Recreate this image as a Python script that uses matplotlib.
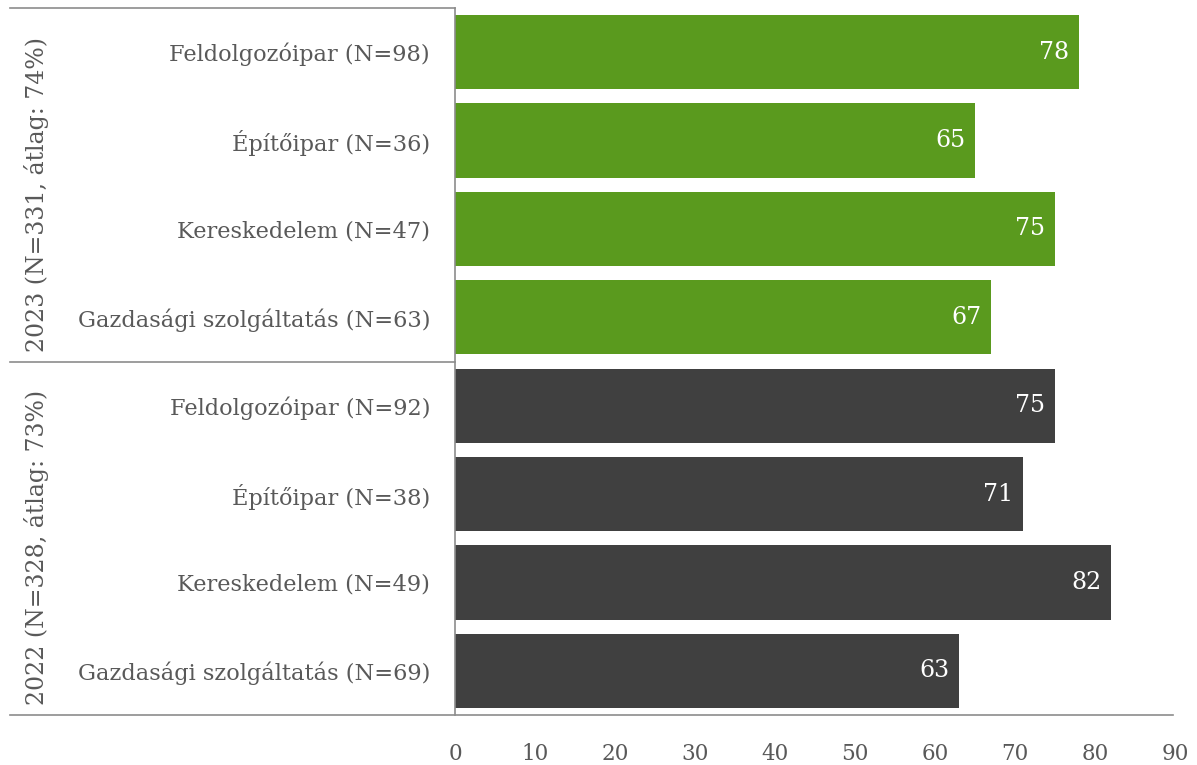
import matplotlib
matplotlib.use("Agg")
import matplotlib.pyplot as plt

categories = ["Feldolgozóipar (N=98)", "Építőipar (N=36)", "Kereskedelem (N=47)", "Gazdasági szolgáltatás (N=63)",
              "Feldolgozóipar (N=92)", "Építőipar (N=38)", "Kereskedelem (N=49)", "Gazdasági szolgáltatás (N=69)"]
values_2023 = [78, 65, 75, 67]
values_2022 = [75, 71, 82, 63]
group_labels = ["2023 (N=331, átlag: 74%)", "2022 (N=328, átlag: 73%)"]
xticks = [0, 10, 20, 30, 40, 50, 60, 70, 80, 90]

GREEN = "#5A9A1E"
DARK = "#404040"
TXT = "#595959"
LINE = "#8C8C8C"
FONT = "DejaVu Serif"

plt.rcParams["font.family"] = FONT

W, H = 1197, 765
fig = plt.figure(figsize=(W / 100, H / 100), dpi=100)
x0, x1, y0, y1 = 455, 1175, 8, 715
ax = fig.add_axes([x0 / W, 1 - y1 / H, (x1 - x0) / W, (y1 - y0) / H])

values = values_2023 + values_2022
colors = [GREEN] * 4 + [DARK] * 4
ypos = list(range(len(values)))
bars = ax.barh(ypos, values, height=0.84, color=colors)
ax.set_ylim(len(values) - 0.5, -0.5)
ax.set_xlim(0, 90)

for b, v in zip(bars, values):
    ax.text(b.get_width() - 1.2, b.get_y() + b.get_height() / 2, f"{v:g}",
            ha="right", va="center", color="white", fontsize=17, fontfamily=FONT)

ax.set_yticks(ypos)
ax.set_yticklabels(categories, fontsize=16.2, color=TXT)
ax.set_xticks(xticks)
ax.set_xticklabels([str(t) for t in xticks], fontsize=15.5, color=TXT)
ax.tick_params(axis="both", length=0)
ax.tick_params(axis="y", pad=18)
ax.tick_params(axis="x", pad=20)

for s in ["top", "right"]:
    ax.spines[s].set_visible(False)
ax.spines["bottom"].set_visible(False)
ax.spines["left"].set_color(LINE)
ax.spines["left"].set_linewidth(1.2)

# separator lines in left label area
xl = (10 - x0) / (x1 - x0)
for yy in [0.0, 0.5, 1.0]:
    xe = (1173 - x0) / (x1 - x0) if yy == 0.0 else 0.0
    ax.plot([xl, xe], [yy, yy], transform=ax.transAxes, color=LINE, lw=1.2, clip_on=False)

# group labels
gx = (36 - x0) / (x1 - x0)
for i, g in enumerate(group_labels):
    yc = 1 - ((194 + 353 * i) - y0) / (y1 - y0)
    ax.text(gx, yc, g, transform=ax.transAxes, rotation=90,
            ha="center", va="center", fontsize=17, color=TXT)

fig.savefig("out.png", dpi=100)
